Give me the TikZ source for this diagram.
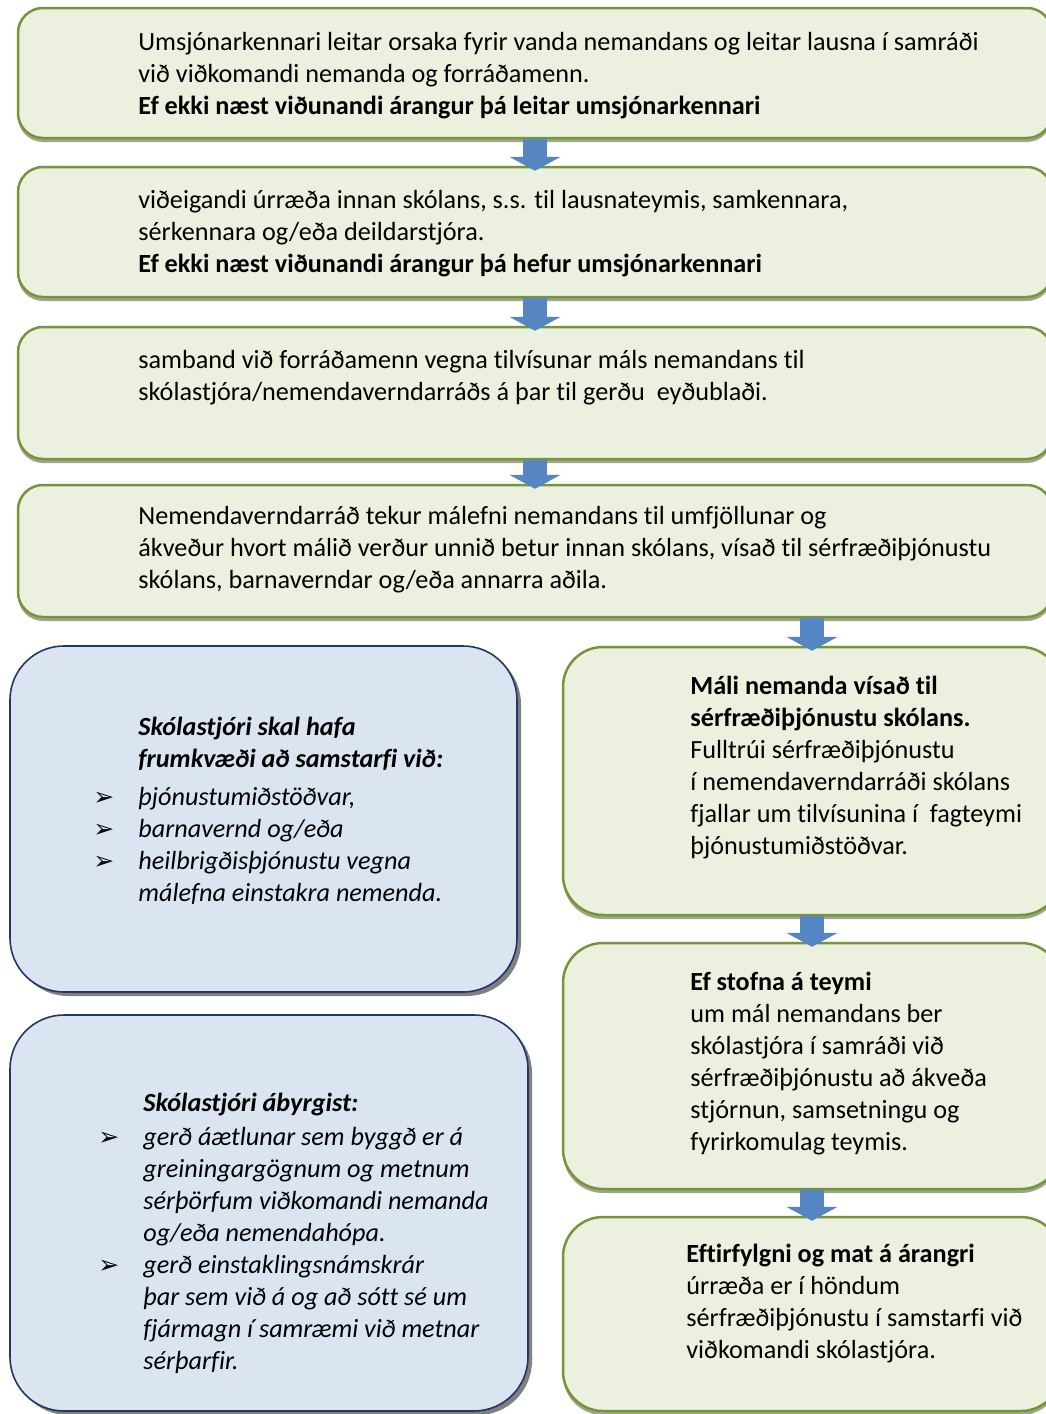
\documentclass[tikz,border=0pt]{standalone}
\usepackage{fontspec}
\setmainfont{Carlito}[Ligatures=CommonOff]
\newfontfamily\symfont{DejaVu Sans}
\usetikzlibrary{arrows.meta,fit,shadows}

\definecolor{boxgreen}{HTML}{EBF1DE}
\definecolor{linegreen}{HTML}{77933C}
\definecolor{shadegreen}{HTML}{9DA88B}
\definecolor{boxblue}{HTML}{DBE5F1}
\definecolor{lineblue}{HTML}{1F3864}
\definecolor{arrowblue}{HTML}{5585C2}

% bullet in front of a line
\newcommand{\bul}{\llap{{\symfont\upshape\fontsize{12.5}{10}\selectfont ➢}\hspace{12pt}}}

\begin{document}
\begin{tikzpicture}[%
    x=0.5pt, y=-0.5pt,
    greenbox/.style={draw=linegreen, line width=1.25pt, fill=boxgreen,
      rounded corners=12.5pt, inner sep=0pt,
      drop shadow={shadow xshift=0pt, shadow yshift=-2pt, fill=shadegreen, opacity=1}},
    sidebox/.style={greenbox, rounded corners=20pt},
    bluebox/.style={draw=lineblue, line width=0.8pt, fill=boxblue,
      rounded corners=27pt, inner sep=0pt,
      drop shadow={shadow xshift=2pt, shadow yshift=-2pt, fill=gray, opacity=1}},
    txt/.style={anchor=north west, inner sep=0pt, align=left,
      font=\fontsize{13.1}{16}\selectfont},
    blockarrow/.style={draw=arrowblue, line width=12pt,
      -{Triangle[width=25.5pt,length=7pt]}, shorten >=-2.5pt},
  ]
    \useasboundingbox (0,0) rectangle (1045,1414);

    % boxes
    \node[greenbox, fit={(18,8) (1052,138)}]    (b1) {};
    \node[greenbox, fit={(18,167) (1052,297)}]  (b2) {};
    \node[greenbox, fit={(18,327) (1052,459)}]  (b3) {};
    \node[greenbox, fit={(18,485) (1052,617)}]  (b4) {};
    \node[bluebox, fit={(10,646) (517,992)}]    (sk1) {};
    \node[bluebox, fit={(10,1015) (528,1411)}]  (sk2) {};
    \node[sidebox, fit={(563,647) (1061,915)}]  (ra) {};
    \node[sidebox, fit={(563,943) (1061,1189)}] (rb) {};
    \node[sidebox, fit={(563,1217) (1061,1411)}] (rc) {};

    % texts
    \node[txt] (t1) at (138,32) {Umsjónarkennari leitar orsaka fyrir vanda nemandans og leitar lausna í samráði\\
      við viðkomandi nemanda og forráðamenn.\\
      \textbf{Ef ekki næst viðunandi árangur þá leitar umsjónarkennari}};
    \node[txt] (t2) at (138,190) {viðeigandi úrræða innan skólans, s.s. til lausnateymis, samkennara,\\
      sérkennara og/eða deildarstjóra.\\
      \textbf{Ef ekki næst viðunandi árangur þá hefur umsjónarkennari}};
    \node[txt] (t3) at (138,350) {samband við forráðamenn vegna tilvísunar máls nemandans til\\
      skólastjóra/nemendaverndarráðs á þar til gerðu\ \ eyðublaði.};
    \node[txt] (t4) at (138,506) {Nemendaverndarráð tekur málefni nemandans til umfjöllunar og\\
      ákveður hvort málið verður unnið betur innan skólans, vísað til sérfræðiþjónustu\\
      skólans, barnaverndar og/eða annarra aðila.};
    \node[txt, font=\fontsize{13.1}{16}\selectfont\itshape] (t5) at (138,717) {\textbf{Skólastjóri skal hafa}\\
      \textbf{frumkvæði að samstarfi við:}\\[3pt]
      \bul þjónustumiðstöðvar,\\
      \bul barnavernd og/eða\\
      \bul heilbrigðisþjónustu vegna\\
      málefna einstakra nemenda.};
    \node[txt, font=\fontsize{13.1}{16}\selectfont\itshape] (t6) at (143,1093) {\textbf{Skólastjóri ábyrgist:}\\[1pt]
      \bul gerð áætlunar sem byggð er á\\
      greiningargögnum og metnum\\
      sérþörfum viðkomandi nemanda\\
      og/eða nemendahópa.\\
      \bul gerð einstaklingsnámskrár\\
      þar sem við á og að sótt sé um\\
      fjármagn í samræmi við metnar\\
      sérþarfir.};
    \node[txt] (t7) at (690,676) {\textbf{Máli nemanda vísað til}\\
      \textbf{sérfræðiþjónustu skólans.}\\
      Fulltrúi sérfræðiþjónustu\\
      í nemendaverndarráði skólans\\
      fjallar um tilvísunina í\ \ fagteymi\\
      þjónustumiðstöðvar.};
    \node[txt] (t8) at (690,972) {\textbf{Ef stofna á teymi}\\
      um mál nemandans ber\\
      skólastjóra í samráði við\\
      sérfræðiþjónustu að ákveða\\
      stjórnun, samsetningu og\\
      fyrirkomulag teymis.};
    \node[txt] (t9) at (686,1244) {\textbf{Eftirfylgni og mat á árangri}\\
      úrræða er í höndum\\
      sérfræðiþjónustu í samstarfi við\\
      viðkomandi skólastjóra.};

    % arrows
    \draw[blockarrow] (b1.south) -- (b2.north);
    \draw[blockarrow] (b2.south) -- (b3.north);
    \draw[blockarrow] (b3.south) -- (b4.north);
    \draw[blockarrow] (b4.south -| ra.north) -- (ra.north);
    \draw[blockarrow] (ra.south) -- (rb.north);
    \draw[blockarrow] (rb.south) -- (rc.north);
  \end{tikzpicture}
\end{document}
